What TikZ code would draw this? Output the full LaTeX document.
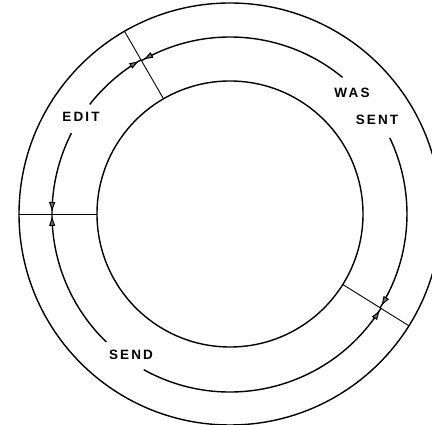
\documentclass[tikz,border=0pt]{standalone}
\usepackage{fontspec}
\newfontfamily\lab[LetterSpace=16]{Liberation Sans}
\usetikzlibrary{arrows.meta,decorations.markings}
\tikzset{
  ring/.style={line width=1.4pt},
  radial/.style={line width=0.9pt},
  flow/.style={line width=1.4pt},
  arrowend/.style={postaction={decorate}, decoration={markings,
     mark=at position -3pt with {\arrow{Triangle[length=9pt,width=6pt,fill=black!55,line width=1pt]}}}},
  lbl/.style={font=\lab\bfseries\fontsize{13.5}{15}\selectfont, inner sep=0pt}
}
\begin{document}
\begin{tikzpicture}[x=1pt,y=1pt]
\useasboundingbox (0,0) rectangle (432,425);
\clip (0,0) rectangle (432,425);
\coordinate (c) at (230,211);
% circles
\draw[ring] (c) circle (211pt);
\draw[ring] (c) circle (133pt);
% radial dividers
\begin{scope}[shift={(c)}]
\coordinate (o1) at (120:211); \coordinate (i1) at (120:133);
\coordinate (o2) at (180:211); \coordinate (i2) at (180:133);
\coordinate (o3) at (-32:211); \coordinate (i3) at (-32:133);
\draw[radial] (o1) -- (i1);
\draw[radial] (o2) -- (i2);
\draw[radial] (o3) -- (i3);
% middle ring arcs
\coordinate (a1) at (142:178);
\coordinate (a2) at (153:178);
\coordinate (a3) at (226:178);
\coordinate (a4) at (241:178);
\coordinate (a5) at (25.5:177);
\coordinate (a6) at (50.5:177);
\draw[flow,arrowend] (a1) arc[start angle=142, end angle=120, radius=178pt];
\draw[flow,arrowend] (a2) arc[start angle=153, end angle=180, radius=178pt];
\draw[flow,arrowend] (a3) arc[start angle=226, end angle=180, radius=178pt];
\draw[flow,arrowend] (a4) arc[start angle=241, end angle=328, radius=178pt];
\draw[flow,arrowend] (a5) arc[start angle=25.5, end angle=-32, radius=177pt];
\draw[flow,arrowend] (a6) arc[start angle=50.5, end angle=120, radius=177pt];
\end{scope}
% labels
\node[lbl] (edit) at (81,308) {EDIT};
\node[lbl] (was) at (352,332) {WAS};
\node[lbl] (sent) at (377,305) {SENT};
\node[lbl] (send) at (131,70) {SEND};
\end{tikzpicture}
\end{document}
